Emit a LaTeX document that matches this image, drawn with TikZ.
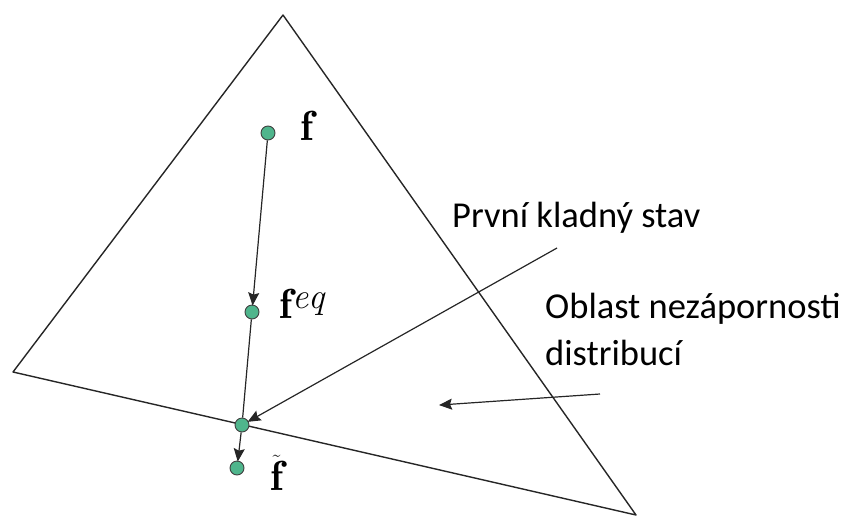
\documentclass[tikz,border=0pt]{standalone}
\usepackage{fontspec}
\setsansfont{Carlito}
\usetikzlibrary{arrows.meta}
\definecolor{DotGreen}{HTML}{4FB58C}

\begin{document}
\begin{tikzpicture}[
  x=1pt, y=-1pt,
  dot/.style={circle, draw=black!75, fill=DotGreen, line width=0.9pt,
    minimum size=14pt, inner sep=0pt},
  lbl/.style={font=\sffamily\fontsize{36.5}{44}\selectfont, anchor=base west,
    inner sep=0pt},
  mlbl/.style={font=\fontsize{42}{42}\selectfont, anchor=base west, inner sep=0pt},
  side/.style={line width=1.4pt, black!85},
  arr/.style={-{Stealth[length=13pt, width=11pt, inset=2pt]}, line width=1.2pt,
    black!85, shorten >=-1pt}
]
  \useasboundingbox (0,0) rectangle (845,517);

  % Triangle
  \coordinate (left) at (13,372);
  \coordinate (top) at (283,15);
  \coordinate (right) at (636,515);
  \draw[side, line join=round] (left) -- (top) -- (right) -- cycle;

  % States
  \node[dot] (f) at (268,133) {};
  \node[dot] (feq) at (252,312) {};
  \node[dot] (fkl) at (242,425) {};
  \node[dot] (ft) at (237,468) {};

  % Labels of the states
  \node[mlbl] (flbl) at (300,140) {$\mathbf{f}$};
  \node[mlbl] (feqlbl) at (279,318)
    {$\mathbf{f}^{\mbox{\fontsize{36}{36}\selectfont$\mathit{eq}$}}$};
  \node[mlbl] (ftlbl) at (270,490) {$\tilde{\mathbf{f}}$};

  % Texts
  \node[lbl] (prvni) at (452,227) {První kladný stav};
  \node[lbl] (oblast) at (545,318) {Oblast nezápornosti};
  \node[lbl] (distr) at (545,365) {distribucí};

  % Arrows
  \draw[arr] (f) -- (feq);
  \draw[line width=1.2pt, black!85] (feq) -- (fkl);
  \draw[arr] (fkl) -- (ft);
  \coordinate (kladny) at (557,248);
  \draw[arr] (kladny) -- (fkl);
  \coordinate (oblastA) at (600,394);
  \coordinate (oblastB) at (440,405);
  \draw[arr] (oblastA) -- (oblastB);
\end{tikzpicture}
\end{document}
